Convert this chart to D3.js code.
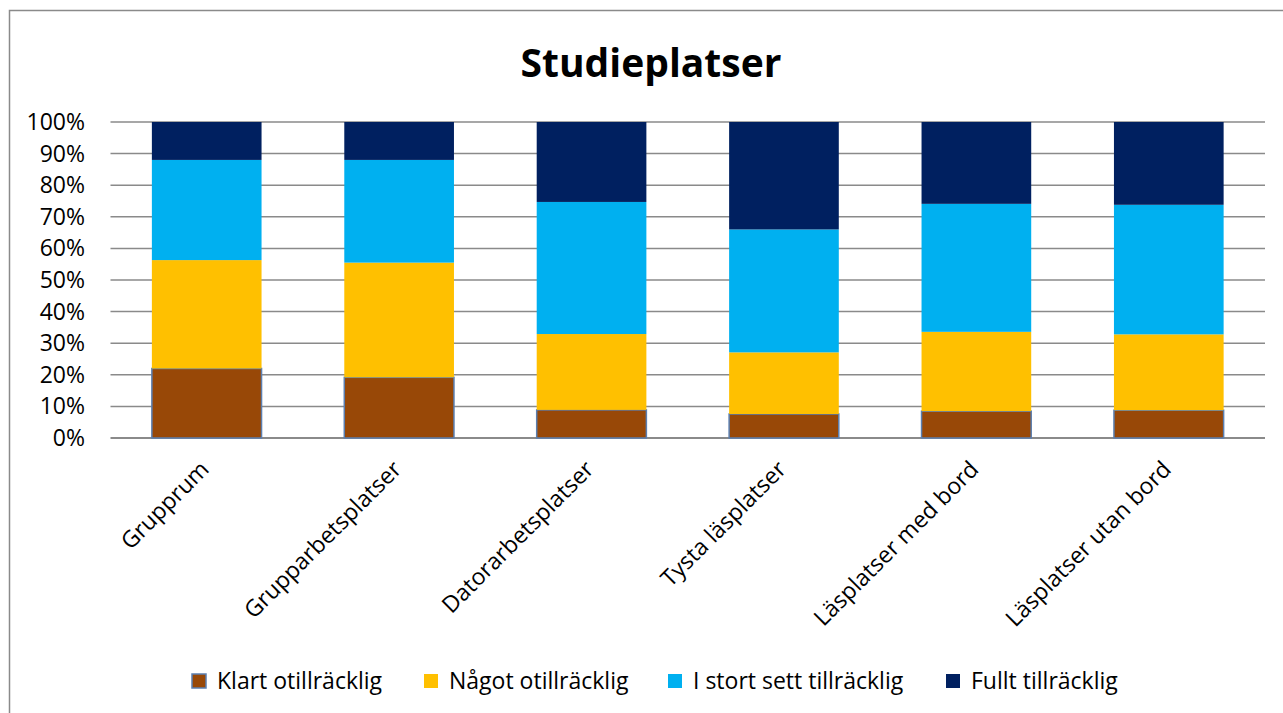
<!DOCTYPE html>
<html>
<head>
<meta charset="utf-8">
<script src="https://cdn.jsdelivr.net/npm/d3@7"></script>
<style>
  body { margin: 0; background: #fff; }
  svg { display: block; font-family: "Open Sans", sans-serif; }
</style>
</head>
<body>
<div id="chart"></div>
<script>
// Data (percent of answers per category)
const categories = ['Grupprum', 'Grupparbetsplatser', 'Datorarbetsplatser', 'Tysta läsplatser', 'Läsplatser med bord', 'Läsplatser utan bord'];
const seriesNames = ['Klart otillräcklig', 'Något otillräcklig', 'I stort sett tillräcklig', 'Fullt tillräcklig'];
const klartOtillracklig = [22.0, 19.2, 8.9, 7.6, 8.5, 8.8];
const nagotOtillracklig = [34.3, 36.3, 24.0, 19.5, 25.1, 24.0];
const iStortSettTillracklig = [31.7, 32.5, 41.8, 38.9, 40.5, 41.0];
const fulltTillracklig = [12.0, 12.0, 25.3, 34.0, 25.9, 26.2];
const yTicks = [0, 10, 20, 30, 40, 50, 60, 70, 80, 90, 100];
const colors = ['#984807', '#FFC000', '#00B0F0', '#002060'];

const W = 1283, H = 713;
const plot = { left: 110.5, right: 1265, top: 122, bottom: 438 };

const svg = d3.select('#chart').append('svg')
    .attr('width', W)
    .attr('height', H);

// Outer chart frame (runs off the right and bottom edge)
svg.append('rect')
    .attr('x', 9.5)
    .attr('y', 10.5)
    .attr('width', 1300)
    .attr('height', 720)
    .attr('fill', 'none')
    .attr('stroke', '#8a8a8a')
    .attr('stroke-width', 1.5);

// Title
svg.append('text')
    .attr('x', 651)
    .attr('y', 77)
    .attr('text-anchor', 'middle')
    .style('font-size', '39px')
    .style('font-weight', 'bold')
    .style('fill', '#000')
    .text('Studieplatser');

const x = d3.scaleBand()
    .domain(categories)
    .range([plot.left, plot.right])
    .paddingInner(0.43)
    .paddingOuter(0.215);

const y = d3.scaleLinear()
    .domain([0, 100])
    .range([plot.bottom, plot.top]);

// Grid lines
svg.append('g')
    .selectAll('line')
    .data(yTicks)
    .enter()
    .append('line')
    .attr('x1', plot.left)
    .attr('x2', plot.right)
    .attr('y1', d => y(d))
    .attr('y2', d => y(d))
    .attr('stroke', '#8a8a8a')
    .attr('stroke-width', d => d === 0 ? 2 : 1.5);

// Y axis labels
svg.append('g')
    .selectAll('text')
    .data(yTicks)
    .enter()
    .append('text')
    .attr('x', 85)
    .attr('y', d => y(d))
    .attr('dy', '0.35em')
    .attr('text-anchor', 'end')
    .style('font-size', '23px')
    .style('fill', '#000')
    .text(d => d + '%');

// Stack the series
const rows = categories.map((c, i) => ({
    cat: c,
    s0: klartOtillracklig[i],
    s1: nagotOtillracklig[i],
    s2: iStortSettTillracklig[i],
    s3: fulltTillracklig[i]
}));
const stacked = d3.stack().keys(['s0', 's1', 's2', 's3'])(rows);

stacked.forEach((layer, li) => {
    svg.append('g')
        .attr('class', `series-${li}`)
        .selectAll('rect')
        .data(layer)
        .enter()
        .append('rect')
        .attr('x', d => x(d.data.cat))
        .attr('y', d => y(d[1]))
        .attr('width', x.bandwidth())
        .attr('height', d => y(d[0]) - y(d[1]))
        .attr('fill', colors[li])
        .attr('stroke', li === 0 ? '#5b7fb0' : 'none')
        .attr('stroke-width', li === 0 ? 1.5 : 0);
});

// Category labels, rotated
svg.append('g')
    .selectAll('text')
    .data(categories)
    .enter()
    .append('text')
    .attr('transform', d => `translate(${x(d) + x.bandwidth() / 2 - 2},${plot.bottom + 27}) rotate(-45)`)
    .attr('text-anchor', 'end')
    .attr('dy', '0.35em')
    .style('font-size', '23px')
    .style('fill', '#000')
    .text(d => d);

// Legend
const legendX = [192, 424, 668, 946];
const legend = svg.append('g');
seriesNames.forEach((name, i) => {
    const item = legend.append('g')
        .attr('transform', `translate(${legendX[i]}, 681)`);
    item.append('rect')
        .attr('x', 0)
        .attr('y', -7)
        .attr('width', 14)
        .attr('height', 14)
        .attr('fill', colors[i])
        .attr('stroke', i === 0 ? '#5b7fb0' : 'none')
        .attr('stroke-width', 1.5);
    item.append('text')
        .attr('x', 25)
        .attr('y', 0)
        .attr('dy', '0.35em')
        .style('font-size', '23px')
        .style('fill', '#000')
        .text(name);
});
</script>
</body>
</html>
